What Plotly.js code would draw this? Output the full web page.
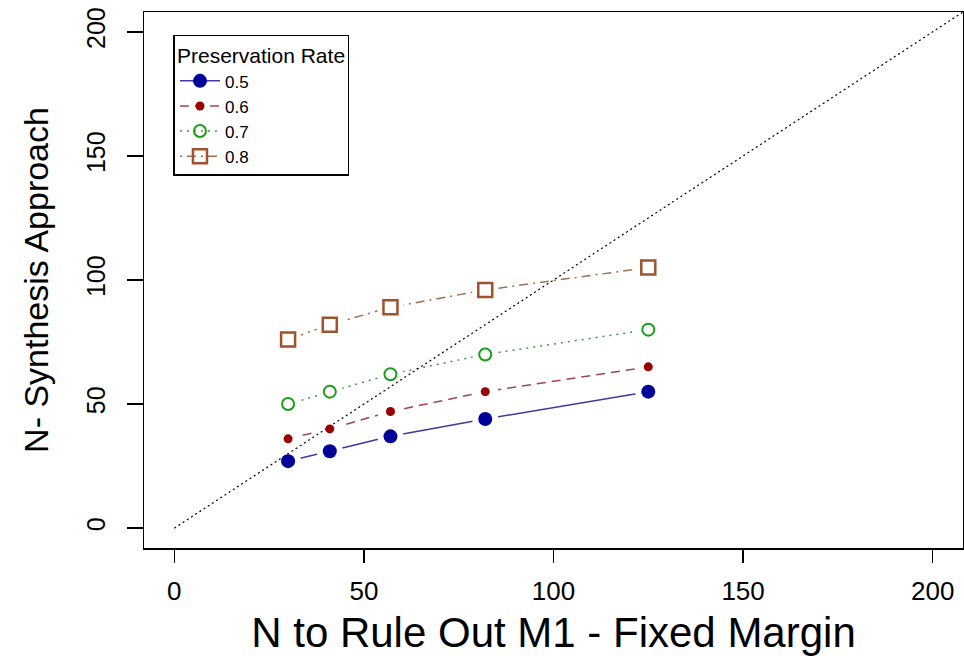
<!DOCTYPE html>
<html>
<head>
<meta charset="utf-8">
<script src="https://cdn.plot.ly/plotly-3.0.1.min.js"></script>
<style>html,body{margin:0;padding:0;background:#fff;}#chart{width:964px;height:656px;}</style>
</head>
<body>
<div id="chart"></div>
<script>
// Data
var nFixedMargin = [30, 41, 57, 82, 125];
var rateLabels = ['0.5', '0.6', '0.7', '0.8'];
var nSynth05 = [27, 31, 37, 44, 55];
var nSynth06 = [36, 40, 47, 55, 65];
var nSynth07 = [50, 55, 62, 70, 80];
var nSynth08 = [76, 82, 89, 96, 105];
var identityLine = [0, 210];
var xTicks = [0, 50, 100, 150, 200];
var yTicks = [0, 50, 100, 150, 200];

var seriesY = [nSynth05, nSynth06, nSynth07, nSynth08];
var styles = [
  {line: {color: '#3b3b9c', width: 1.5, dash: 'solid'}, marker: {symbol: 'circle', size: 14, color: '#00009a', line: {width: 0}}},
  {line: {color: '#a04848', width: 1.5, dash: '9px,6px'}, marker: {symbol: 'circle', size: 9, color: '#9a0000', line: {width: 0}}},
  {line: {color: '#3a9a3a', width: 1.5, dash: '2px,5px'}, marker: {symbol: 'circle-open', size: 12, color: '#17a017', line: {width: 2}}},
  {line: {color: '#a07050', width: 1.5, dash: '2px,5px,9px,5px'}, marker: {symbol: 'square-open', size: 14, color: '#a0522d', line: {width: 2.5}}}
];

var traces = [];
// series with lines (legend entries)
for (var i = 0; i < 4; i++) {
  traces.push({
    x: nFixedMargin, y: seriesY[i], type: 'scatter', mode: 'lines+markers',
    name: rateLabels[i], line: styles[i].line, marker: styles[i].marker
  });
}
// white gaps around points (as in R type="b")
for (var i = 0; i < 4; i++) {
  traces.push({
    x: nFixedMargin, y: seriesY[i], type: 'scatter', mode: 'markers', showlegend: false,
    hoverinfo: 'skip', marker: {symbol: i === 3 ? 'square' : 'circle', size: 26, color: '#ffffff', line: {width: 0}}
  });
}
// identity line
traces.push({
  x: identityLine, y: identityLine, type: 'scatter', mode: 'lines', showlegend: false,
  line: {color: '#000000', width: 1.2, dash: '2px,3px'}, hoverinfo: 'skip'
});
// markers on top
for (var i = 0; i < 4; i++) {
  var m = JSON.parse(JSON.stringify(styles[i].marker));
  if (i >= 2) { m.symbol = m.symbol.replace('-open', ''); m.color = '#ffffff'; m.line = {width: styles[i].marker.line.width, color: styles[i].marker.color}; }
  traces.push({
    x: nFixedMargin, y: seriesY[i], type: 'scatter', mode: 'markers', showlegend: false,
    marker: m
  });
}

var font = 'Liberation Sans, Arial, sans-serif';
var layout = {
  width: 964, height: 656,
  margin: {l: 144, r: 1, t: 12, b: 108, pad: 0},
  paper_bgcolor: '#ffffff', plot_bgcolor: '#ffffff',
  font: {family: font, color: '#000000'},
  showlegend: true,
  legend: {
    x: 0.036, y: 0.958, xanchor: 'left', yanchor: 'top',
    bgcolor: '#ffffff', bordercolor: '#000000', borderwidth: 1.5,
    font: {family: font, size: 17, color: '#000000'},
    title: {text: 'Preservation Rate', font: {family: font, size: 21, color: '#000000'}, side: 'top'},
    tracegroupgap: 0, itemwidth: 40
  },
  xaxis: {
    range: [-8, 208], autorange: false,
    tickmode: 'array', tickvals: xTicks, ticktext: xTicks.map(String),
    ticks: 'outside', ticklen: 13, tickwidth: 1.5, tickcolor: '#000000',
    ticklabelstandoff: 6,
    tickfont: {family: font, size: 26, color: '#000000'},
    showgrid: false, zeroline: false,
    showline: true, mirror: true, linecolor: '#000000', linewidth: 1.5,
    title: {text: 'N to Rule Out M1 - Fixed Margin', font: {family: font, size: 42, color: '#000000'}, standoff: 22},
    automargin: false
  },
  yaxis: {
    range: [-8, 208], autorange: false,
    tickmode: 'array', tickvals: yTicks, ticktext: yTicks.map(String),
    ticks: 'outside', ticklen: 16, tickwidth: 1.5, tickcolor: '#000000',
    tickangle: -90, ticklabelstandoff: 12,
    tickfont: {family: font, size: 25, color: '#000000'},
    showgrid: false, zeroline: false,
    showline: true, mirror: true, linecolor: '#000000', linewidth: 1.5,
    title: {text: 'N- Synthesis Approach', font: {family: font, size: 34, color: '#000000'}, standoff: 22},
    automargin: false
  }
};

Plotly.newPlot('chart', traces, layout, {displayModeBar: false, staticPlot: true});
</script>
</body>
</html>
